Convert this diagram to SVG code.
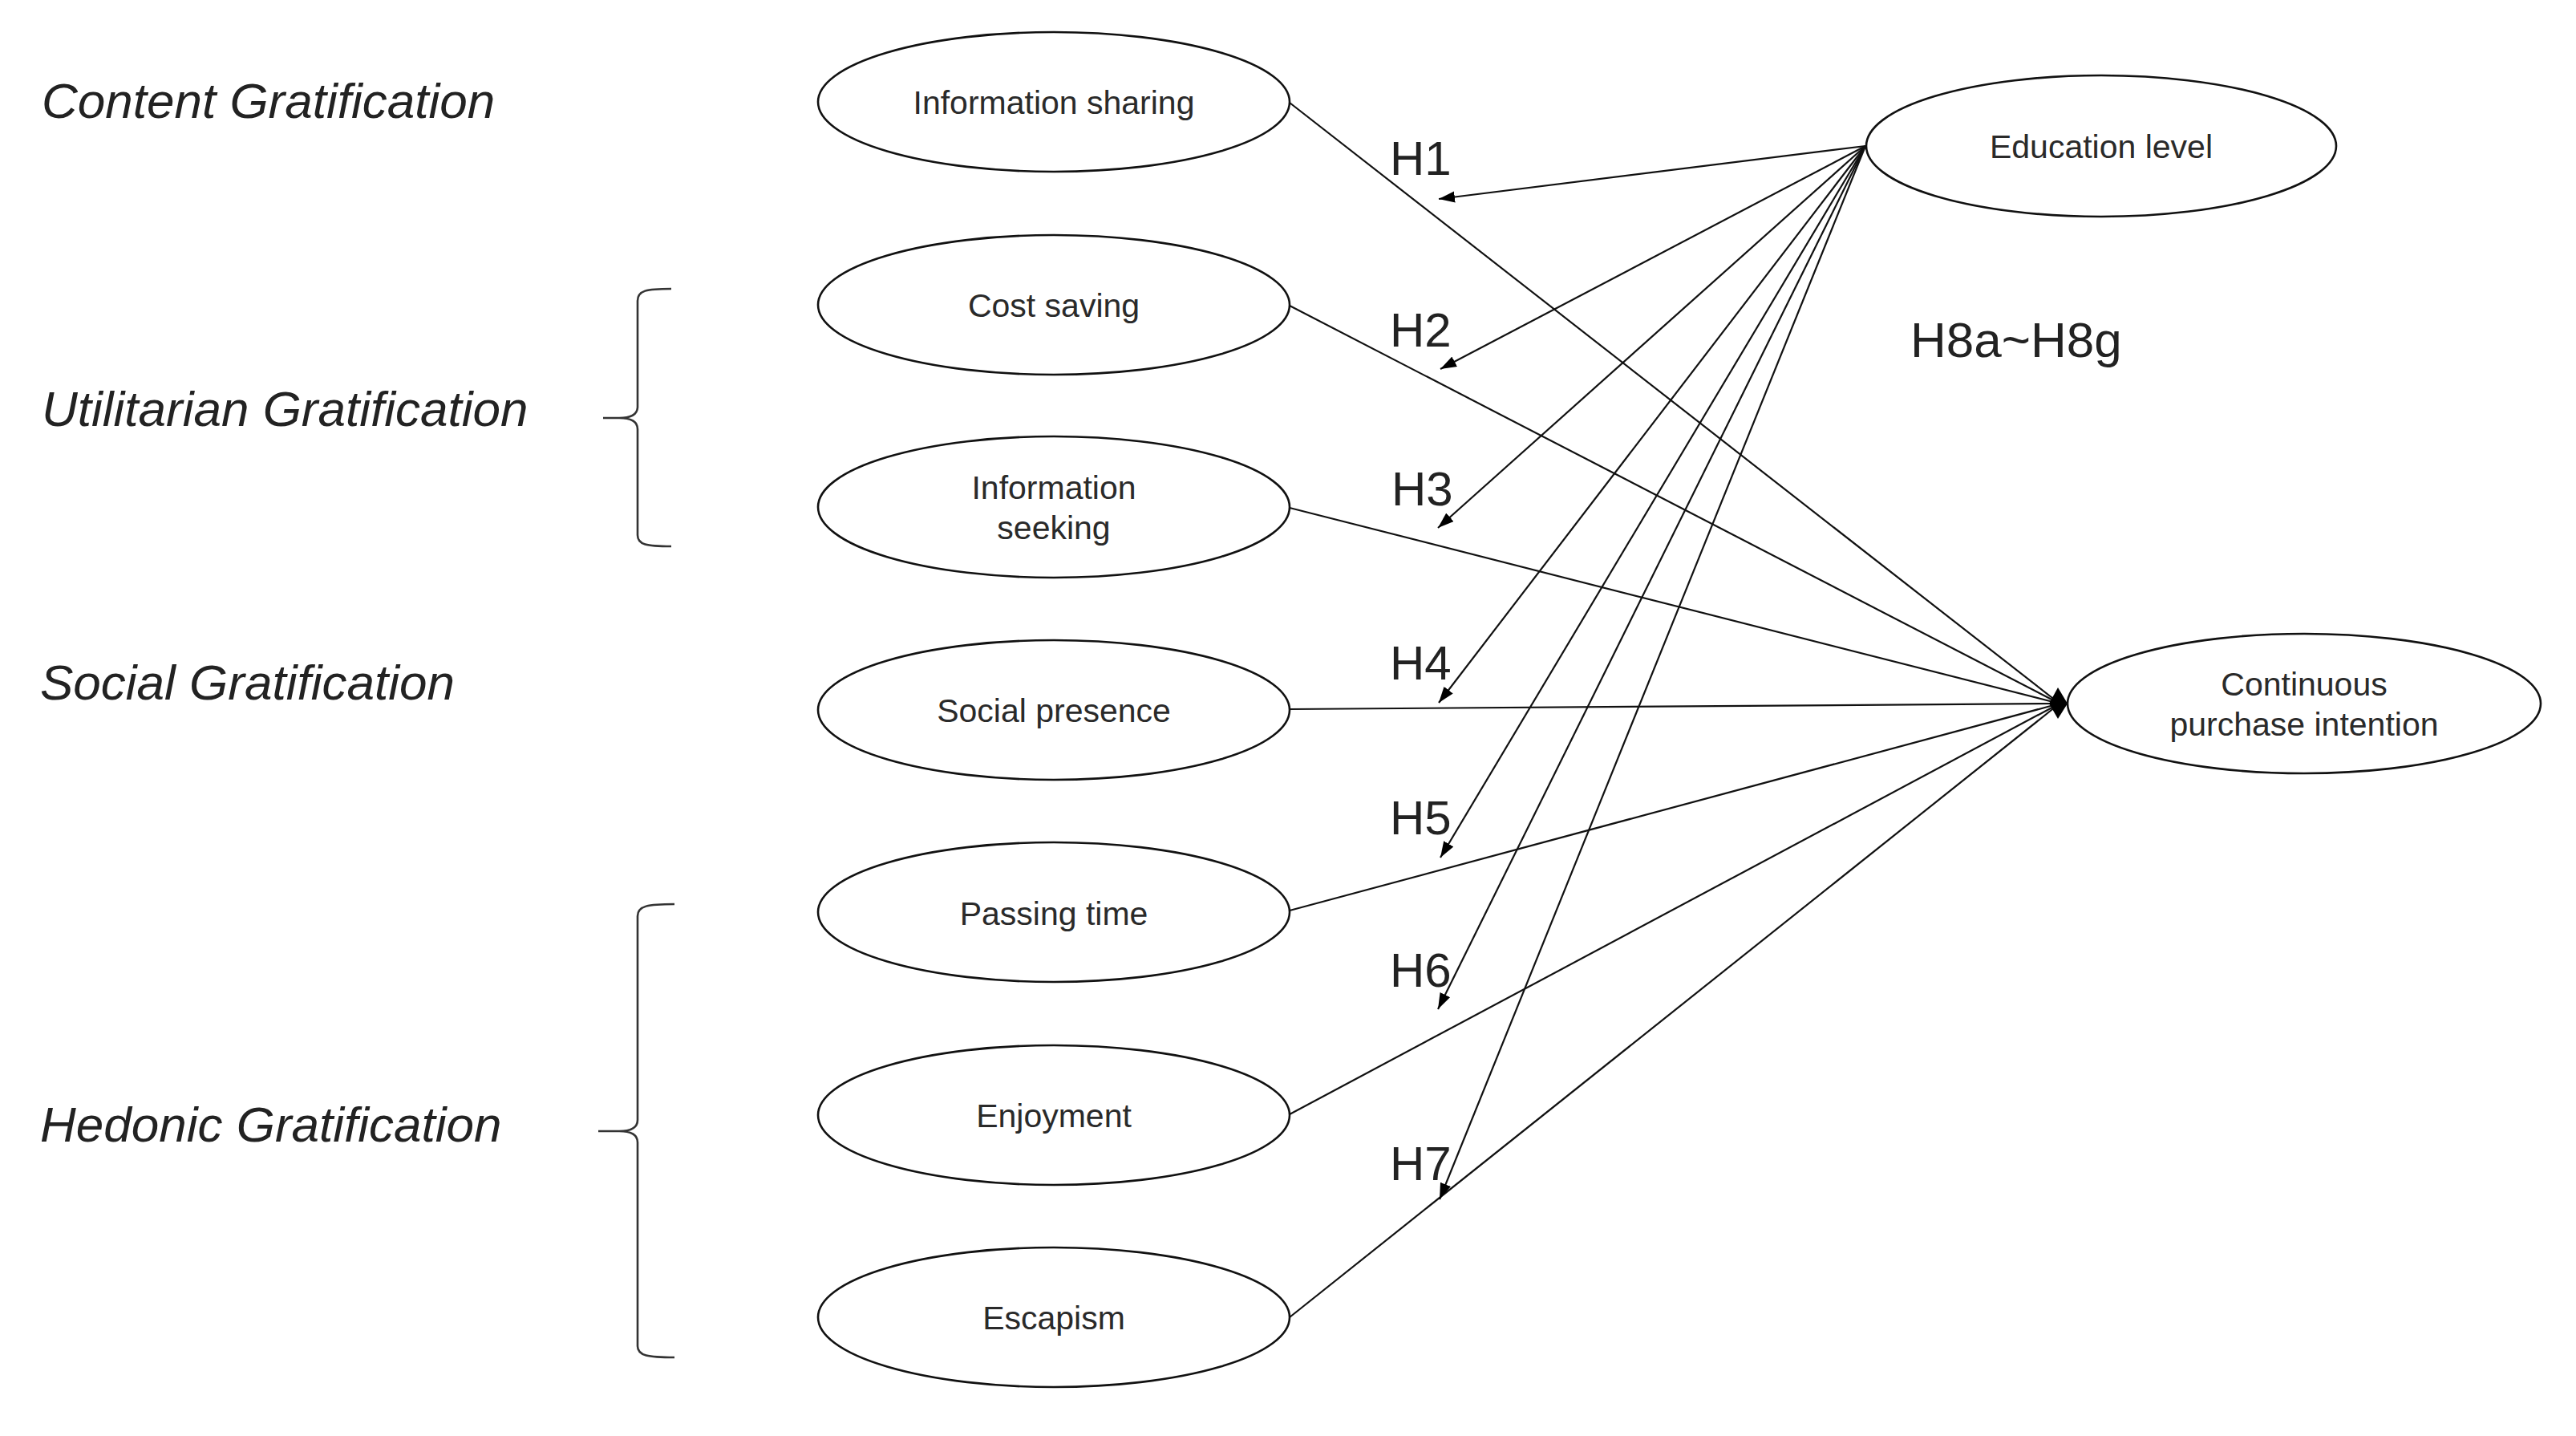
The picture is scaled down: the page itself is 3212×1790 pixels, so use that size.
<svg xmlns="http://www.w3.org/2000/svg" width="3212" height="1790" viewBox="0 0 3212 1790">
  <defs>
    <style>
      .node ellipse { fill: #ffffff; stroke: #111; stroke-width: 2.6; }
      .node text { font-family: "Liberation Sans", Arial, sans-serif; font-size: 41px; fill: #2a2a2a; text-anchor: middle; }
      .cat { font-family: "Liberation Sans", Arial, sans-serif; font-size: 62px; font-style: italic; fill: #222; }
      .hyp { font-family: "Liberation Sans", Arial, sans-serif; font-size: 60px; fill: #222; }
      .conn line { stroke: #111; stroke-width: 2.2; fill: none; }
      .brace { stroke: #333; stroke-width: 2.6; fill: none; }
    </style>
    <marker id="arr" markerWidth="22" markerHeight="16" refX="20" refY="7" orient="auto" markerUnits="userSpaceOnUse">
      <path d="M0,0 L20,7 L0,14 z" fill="#000"/>
    </marker>
  </defs>
  <rect width="3212" height="1790" fill="#ffffff"/>

  <!-- category labels -->
  <g id="categories">
    <text class="cat" x="52" y="147">Content Gratification</text>
    <text class="cat" x="52" y="531">Utilitarian Gratification</text>
    <text class="cat" x="50" y="872">Social Gratification</text>
    <text class="cat" x="50" y="1423">Hedonic Gratification</text>
  </g>

  <!-- braces -->
  <g id="braces">
    <path class="brace" d="M837,360 C806,360 795,362 795,375 L795,507 C795,517 786,521 772,521 L752,521 M772,521 C786,521 795,525 795,535 L795,667 C795,679 806,681 837,681"/>
    <path class="brace" d="M841,1127 C808,1127 795,1129 795,1142 L795,1396 C795,1406 786,1410 772,1410 L746,1410 M772,1410 C786,1410 795,1414 795,1424 L795,1678 C795,1690 808,1692 841,1692"/>
  </g>

  <!-- connectors -->
  <g id="connectors" class="conn">
    <line x1="1608" y1="128" x2="2568" y2="877"/>
    <line x1="1608" y1="381" x2="2568" y2="877"/>
    <line x1="1608" y1="633" x2="2568" y2="877"/>
    <line x1="1608" y1="884" x2="2568" y2="877"/>
    <line x1="1608" y1="1135" x2="2568" y2="877"/>
    <line x1="1608" y1="1389" x2="2568" y2="877"/>
    <line x1="1608" y1="1642" x2="2568" y2="877"/>
    <polygon points="2555,877 2566,857 2578,877 2566,896" fill="#000" stroke="none"/>

    <line x1="2326" y1="182" x2="1794" y2="248" marker-end="url(#arr)"/>
    <line x1="2326" y1="182" x2="1796" y2="460" marker-end="url(#arr)"/>
    <line x1="2326" y1="182" x2="1793" y2="658" marker-end="url(#arr)"/>
    <line x1="2326" y1="182" x2="1794" y2="876" marker-end="url(#arr)"/>
    <line x1="2326" y1="182" x2="1796" y2="1069" marker-end="url(#arr)"/>
    <line x1="2326" y1="182" x2="1793" y2="1258" marker-end="url(#arr)"/>
    <line x1="2326" y1="182" x2="1795" y2="1495" marker-end="url(#arr)"/>
  </g>

  <!-- hypothesis labels -->
  <g id="hypotheses">
    <text class="hyp" x="1733" y="218">H1</text>
    <text class="hyp" x="1733" y="432">H2</text>
    <text class="hyp" x="1735" y="630">H3</text>
    <text class="hyp" x="1733" y="847">H4</text>
    <text class="hyp" x="1733" y="1040">H5</text>
    <text class="hyp" x="1733" y="1230">H6</text>
    <text class="hyp" x="1733" y="1471">H7</text>
    <text class="hyp" x="2382" y="445" style="font-size:62px">H8a~H8g</text>
  </g>

  <!-- nodes -->
  <g id="node-information-sharing" class="node">
    <ellipse cx="1314" cy="127" rx="294" ry="87"/>
    <text x="1314" y="142">Information sharing</text>
  </g>
  <g id="node-cost-saving" class="node">
    <ellipse cx="1314" cy="380" rx="294" ry="87"/>
    <text x="1314" y="395">Cost saving</text>
  </g>
  <g id="node-information-seeking" class="node">
    <ellipse cx="1314" cy="632" rx="294" ry="88"/>
    <text x="1314" y="622">Information</text>
    <text x="1314" y="672">seeking</text>
  </g>
  <g id="node-social-presence" class="node">
    <ellipse cx="1314" cy="885" rx="294" ry="87"/>
    <text x="1314" y="900">Social presence</text>
  </g>
  <g id="node-passing-time" class="node">
    <ellipse cx="1314" cy="1137" rx="294" ry="87"/>
    <text x="1314" y="1153">Passing time</text>
  </g>
  <g id="node-enjoyment" class="node">
    <ellipse cx="1314" cy="1390" rx="294" ry="87"/>
    <text x="1314" y="1405">Enjoyment</text>
  </g>
  <g id="node-escapism" class="node">
    <ellipse cx="1314" cy="1642" rx="294" ry="87"/>
    <text x="1314" y="1657">Escapism</text>
  </g>
  <g id="node-education-level" class="node">
    <ellipse cx="2620" cy="182" rx="293" ry="88"/>
    <text x="2620" y="197">Education level</text>
  </g>
  <g id="node-continuous-purchase-intention" class="node">
    <ellipse cx="2873" cy="877" rx="295" ry="87"/>
    <text x="2873" y="867">Continuous</text>
    <text x="2873" y="917">purchase intention</text>
  </g>
</svg>
